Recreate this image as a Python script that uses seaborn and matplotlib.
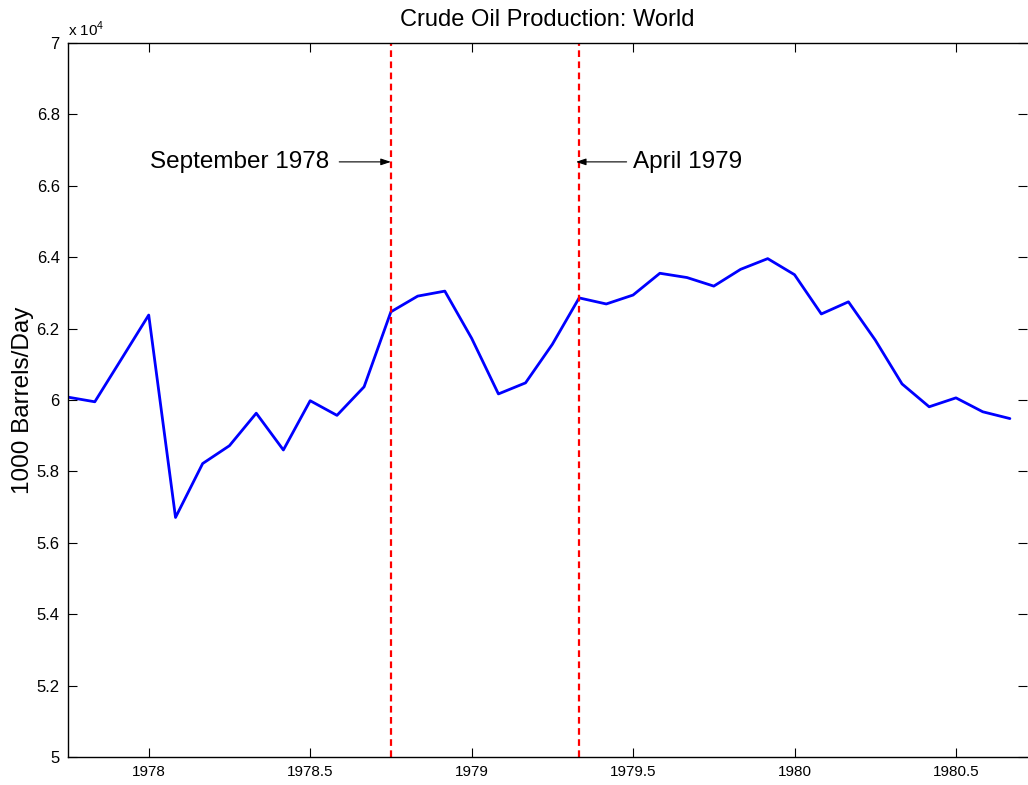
import numpy as np, pandas as pd
import matplotlib as mpl; mpl.use("Agg")
import matplotlib.pyplot as plt
import seaborn as sns
from matplotlib.ticker import FuncFormatter

# monthly world crude production, 1000 barrels/day (year + month/12)
years = [1977.75,1977.833,1977.917,1978.0,1978.083,1978.167,1978.25,1978.333,1978.417,1978.5,1978.583,1978.667,
         1978.75,1978.833,1978.917,1979.0,1979.083,1979.167,1979.25,1979.333,1979.417,1979.5,1979.583,1979.667,
         1979.75,1979.833,1979.917,1980.0,1980.083,1980.167,1980.25,1980.333,1980.417,1980.5,1980.583,1980.667]
prod = [60080,59950,61170,62380,56710,58220,58720,59630,58600,59980,59570,60370,
        62470,62910,63050,61730,60170,60480,61560,62860,62690,62940,63550,63430,
        63190,63660,63960,63510,62410,62750,61680,60450,59810,60060,59670,59480]
events = [1978.75, 1979.333]
event_labels = ["September 1978", "April 1979"]
xticks = [1978, 1978.5, 1979, 1979.5, 1980, 1980.5]
yticks = [50000,52000,54000,56000,58000,60000,62000,64000,66000,68000,70000]

sns.set_style("ticks")
plt.rcParams["font.family"] = ["Liberation Sans", "DejaVu Sans"]
plt.rcParams["mathtext.fontset"] = "custom"
plt.rcParams["mathtext.rm"] = "Liberation Sans"
plt.rcParams.update({"xtick.direction":"in","ytick.direction":"in",
                     "xtick.major.size":6.5,"ytick.major.size":6.5,
                     "xtick.major.width":0.8,"ytick.major.width":0.8,
                     "axes.linewidth":1.0,"axes.edgecolor":"black",
                     "text.color":"black","axes.labelcolor":"black",
                     "xtick.color":"black","ytick.color":"black"})

df = pd.DataFrame({"year":years,"prod":prod})
fig = plt.figure(figsize=(10.28,7.85), dpi=100)
ax = fig.add_axes([68/1028, 1-757/785, (1027-68)/1028, (757-43)/785])
sns.lineplot(data=df, x="year", y="prod", color="blue", lw=2.0, ax=ax)
for e in events:
    ax.axvline(e, color="red", ls=(0,(3,2)), lw=1.6)

ay = 66670
ax.annotate("", xy=(events[0], ay), xytext=(1978.59, ay),
            arrowprops=dict(arrowstyle="-|>,head_length=0.6,head_width=0.2", color="black", lw=0.8, shrinkA=0, shrinkB=0))
ax.text(1978.56, ay, event_labels[0], ha="right", va="center", fontsize=17.5)
ax.annotate("", xy=(events[1] - 0.01, ay), xytext=(1979.48, ay),
            arrowprops=dict(arrowstyle="-|>,head_length=0.6,head_width=0.2", color="black", lw=0.8, shrinkA=0, shrinkB=0))
ax.text(1979.5, ay, event_labels[1], ha="left", va="center", fontsize=17.5)

ax.set_xlim(1977.75, 1980.72)
ax.set_ylim(50000, 70000)
ax.set_xticks(xticks); ax.set_yticks(yticks)
ax.xaxis.set_major_formatter(FuncFormatter(lambda v,p: f"{v:g}"))
ax.yaxis.set_major_formatter(FuncFormatter(lambda v,p: f"{v/1e4:g}"))
ax.tick_params(labelsize=11, top=True, right=True, pad=6)
ax.tick_params(axis="y", labelsize=12)
ax.spines["right"].set_visible(False)
ax.set_xlabel("")
ax.set_ylabel("1000 Barrels/Day", fontsize=17.5, labelpad=2)
ax.set_title("Crude Oil Production: World", fontsize=17, pad=12)
ax.text(0.0, 1.005, r"x 10$^{4}$", transform=ax.transAxes, fontsize=11, ha="left", va="bottom")
fig.savefig("out.png", dpi=100)
